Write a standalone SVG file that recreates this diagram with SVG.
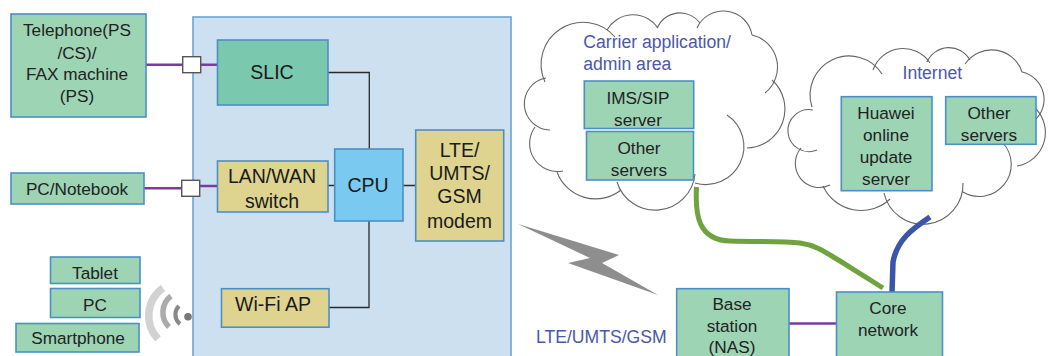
<svg xmlns="http://www.w3.org/2000/svg" width="1050" height="356" viewBox="0 0 1050 356">
<style>
text{font-family:"Liberation Sans",Arial,sans-serif;font-size:17.2px;fill:#222;text-anchor:middle}
.lg{font-size:19.5px;fill:#1a1a1a}
.bl{fill:#4a57ab;text-anchor:start;font-size:17.6px}
.b{stroke:#4b8fc7;stroke-width:1.6}
.g{fill:#9dd4b4}
.y{fill:#dfd48f}
.cl{fill:none;stroke:#666;stroke-width:1.1}
.k{fill:none;stroke:#2a2a2a;stroke-width:1.3}
.p{fill:none;stroke:#7a3a9e;stroke-width:2.6}
.port{fill:#fff;stroke:#555;stroke-width:1.4}
</style>
<g id="main-board"><rect x="193" y="17" width="318" height="345" fill="#cce0ef" stroke="#6ba3d3" stroke-width="1.6"/></g>
<g id="cloud-carrier" class="cl">
<path d="M550,130A26.2,26.2 0 0 1 546,78"/>
<path d="M563,171A28,28 0 0 1 535,127"/>
<path d="M621,190A41,41 0 0 1 557,172"/>
<path d="M695,174A40,40 0 0 1 617,182"/>
<path d="M727,115A38,38 0 0 1 695,183"/>
<path d="M772,80A39,39 0 0 1 747,148"/>
<path d="M752,35A33,33 0 0 1 765,93"/>
<path d="M697,28A29,29 0 0 1 752,35"/>
<path d="M657,28A25,25 0 0 1 700,23"/>
<path d="M607,30A30,30 0 0 1 658,28"/>
<path d="M545,82A42,42 0 0 1 615,37"/>
</g>
<g id="cloud-internet" class="cl">
<path d="M817,150A21,21 0 1 1 813,110"/>
<path d="M830,185A24,24 0 0 1 801,148"/>
<path d="M890,199A42,42 0 0 1 823,186"/>
<path d="M963,183A40,40 0 0 1 884,193"/>
<path d="M1003,143A32,32 0 0 1 963,192"/>
<path d="M1035,108A34,34 0 0 1 1017,166"/>
<path d="M1022,72A28,28 0 0 1 1035,120"/>
<path d="M965,64A32,32 0 0 1 1022,72"/>
<path d="M927,62A24,24 0 0 1 970,60"/>
<path d="M873,70A32,32 0 0 1 930,63"/>
<path d="M812,107A39,39 0 0 1 882,74"/>
</g>
<g id="connectors">
<path class="p" d="M146,64.7H217.5"/>
<path class="p" d="M144,188.3H182M199,186H217.5"/>
<path class="p" d="M789,323.5H836.5" stroke-width="3"/>
<path class="k" d="M328,72.5H369.3V149"/>
<path class="k" d="M328,185.5H335M403,185.5H416"/>
<path class="k" d="M369,221V307.5H329"/>
<path d="M696.5,187C695,215 698,240 730,241C760,242 785,241 800,243C815,245 825,252 840,261L883,288" fill="none" stroke="#6fa33f" stroke-width="5"/>
<path d="M930,217C912,229 897,240 893,262L892,292" fill="none" stroke="#3b55a8" stroke-width="5.5"/>
</g>
<g id="port-phone"><rect class="port" x="182.7" y="56.7" width="18" height="16"/></g>
<g id="port-pc"><rect class="port" x="181.7" y="180.3" width="18" height="16"/></g>
<g id="telephone"><rect class="g b" x="11" y="14" width="135" height="103"/><text x="77" y="36">Telephone(PS</text><text x="77" y="58.5">/CS)/</text><text x="77" y="79.5">FAX machine</text><text x="77" y="101.5">(PS)</text></g>
<g id="pc-notebook"><rect class="g b" x="11" y="173" width="133" height="31"/><text x="77" y="195">PC/Notebook</text></g>
<g id="tablet"><rect class="g b" x="50.5" y="257" width="89.5" height="26.5"/><text x="95" y="279">Tablet</text></g>
<g id="pc"><rect class="g b" x="50.5" y="288.5" width="89.5" height="29"/><text x="95" y="311">PC</text></g>
<g id="smartphone"><rect class="g b" x="16" y="323.5" width="123" height="28.5"/><text x="78" y="344">Smartphone</text></g>
<g id="wifi-signal" fill="none">
<path d="M163,288A34,34 0 0 0 158,339" stroke="#d2d2d2" stroke-width="7.5"/>
<path d="M171,296A20.6,20.6 0 0 0 169,327" stroke="#ababab" stroke-width="5.5"/>
<path d="M179,306A12,12 0 0 0 180,324" stroke="#888" stroke-width="4.2"/>
<circle cx="188" cy="316.7" r="3.8" fill="#777"/>
</g>
<g id="slic"><rect class="b" fill="#7ac9ae" x="217.5" y="40" width="110.5" height="65"/><text class="lg" x="272" y="79">SLIC</text></g>
<g id="lan-wan"><rect class="y b" x="217.5" y="161" width="110.5" height="51"/><text class="lg" x="272" y="183">LAN/WAN</text><text class="lg" x="272" y="207.5">switch</text></g>
<g id="wifi-ap"><rect class="y b" x="221.5" y="288.7" width="107.5" height="38.5"/><text class="lg" x="273" y="311">Wi-Fi AP</text></g>
<g id="cpu"><rect class="b" fill="#79c9f0" x="334.7" y="149" width="68.3" height="72"/><text class="lg" x="368" y="192">CPU</text></g>
<g id="modem"><rect class="y b" x="415.7" y="130" width="88" height="111"/><text class="lg" x="459.5" y="157">LTE/</text><text class="lg" x="459.5" y="180">UMTS/</text><text class="lg" x="459.5" y="203">GSM</text><text class="lg" x="459.5" y="228">modem</text></g>
<g id="carrier-label"><text class="bl" x="583.3" y="48">Carrier application/</text><text class="bl" x="583.3" y="70">admin area</text></g>
<g id="ims-sip"><rect class="g b" x="584.3" y="81" width="109.4" height="47.5"/><text x="638" y="104">IMS/SIP</text><text x="638" y="126">server</text></g>
<g id="other-carrier"><rect class="g b" x="586.5" y="131.5" width="107" height="48.5"/><text x="639" y="154">Other</text><text x="639" y="176">servers</text></g>
<g id="internet-label"><text class="bl" x="902.5" y="79">Internet</text></g>
<g id="huawei"><rect class="g b" x="841.3" y="96.7" width="90.7" height="94"/><text x="886" y="119">Huawei</text><text x="886" y="141">online</text><text x="886" y="163">update</text><text x="886" y="184.5">server</text></g>
<g id="other-internet"><rect class="g b" x="945.7" y="96.7" width="90.3" height="47.6"/><text x="989" y="119">Other</text><text x="989" y="141">servers</text></g>
<g id="lightning"><polygon points="518,224 619,255 602,263 658,295 568,263 590,258" fill="#8e8e8e"/></g>
<g id="lte-label"><text class="bl" x="536" y="342.7">LTE/UMTS/GSM</text></g>
<g id="base-station"><rect class="g b" x="676.7" y="288.7" width="112.3" height="72"/><text x="732" y="310">Base</text><text x="732" y="332">station</text><text x="732" y="352.7">(NAS)</text></g>
<g id="core-network"><rect class="g b" x="836.5" y="292" width="106" height="70"/><text x="888" y="314">Core</text><text x="888" y="336">network</text></g>
</svg>
